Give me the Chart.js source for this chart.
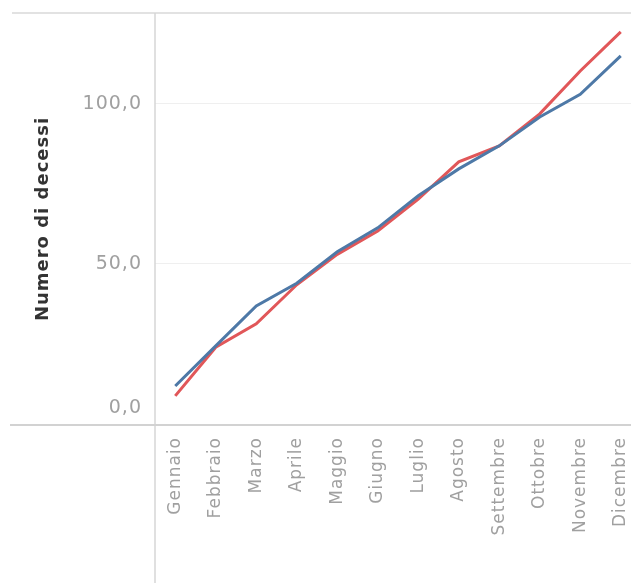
<!DOCTYPE html>
<html>
<head>
<meta charset="utf-8">
<script src="https://cdn.jsdelivr.net/npm/chart.js@4"></script>
<style>
  html, body { margin: 0; padding: 0; background: #fff; overflow: hidden; }
  #wrap { width: 641px; height: 583px; }
</style>
</head>
<body>
<div id="wrap"><canvas id="deathsChart"></canvas></div>
<script>
const months = ['Gennaio', 'Febbraio', 'Marzo', 'Aprile', 'Maggio', 'Giugno',
                'Luglio', 'Agosto', 'Settembre', 'Ottobre', 'Novembre', 'Dicembre'];
const deathsBlue = [11.9, 24.4, 36.9, 44.0, 53.8, 61.3, 71.3, 79.7, 86.9, 95.9, 103.0, 115.0];
const deathsRed = [8.8, 24.0, 31.3, 43.5, 53.0, 60.3, 70.3, 81.9, 86.9, 96.9, 110.3, 122.5];
const yTicks = [0, 50, 100];

// wider letter spacing for every label (set before measuring and before drawing)
const textSpacing = {
    id: 'textSpacing',
    beforeUpdate(chart) { chart.ctx.letterSpacing = '1px'; },
    beforeDraw(chart) { chart.ctx.letterSpacing = '1px'; },
};

// light frame: top rule, vertical axis rule and the zero line
const frameLines = {
    id: 'frameLines',
    beforeDatasetsDraw(chart) {
        const { ctx, chartArea, width, height } = chart;
        ctx.save();
        ctx.strokeStyle = '#e2e2e2';
        ctx.lineWidth = 2;
        ctx.beginPath();
        ctx.moveTo(12, chartArea.top);
        ctx.lineTo(width, chartArea.top);
        ctx.stroke();

        ctx.strokeStyle = '#d6d6d6';
        ctx.lineWidth = 1.5;
        ctx.beginPath();
        ctx.moveTo(chartArea.left, chartArea.top);
        ctx.lineTo(chartArea.left, height);
        ctx.stroke();

        ctx.strokeStyle = '#d2d2d2';
        ctx.lineWidth = 2;
        ctx.beginPath();
        ctx.moveTo(10, chartArea.bottom);
        ctx.lineTo(width, chartArea.bottom);
        ctx.stroke();
        ctx.restore();
    }
};

document.addEventListener('DOMContentLoaded', function() {
    const ctx = document.getElementById('deathsChart').getContext('2d');
    const chart = new Chart(ctx, {
        type: 'line',
        data: {
            labels: months,
            datasets: [{
                label: 'Serie blu',
                data: deathsBlue,
                borderColor: '#4e79a7',
                borderWidth: 3,
                pointRadius: 0,
                tension: 0,
            }, {
                label: 'Serie rossa',
                data: deathsRed,
                borderColor: '#e15759',
                borderWidth: 3,
                pointRadius: 0,
                tension: 0,
            }],
        },
        options: {
            responsive: true,
            maintainAspectRatio: false,
            animation: false,
            layout: {
                padding: { top: 13, left: 0, right: 0, bottom: 0 },
            },
            scales: {
                x: {
                    offset: true,
                    grid: { display: false },
                    border: { display: false },
                    ticks: {
                        autoSkip: false,
                        minRotation: 90,
                        maxRotation: 90,
                        padding: 4,
                        color: '#a0a0a0',
                        font: { family: 'DejaVu Sans', size: 17 },
                    },
                    afterFit: function(scale) {
                        scale.height = 158;
                        scale.paddingLeft = 0;
                        scale.paddingRight = 0;
                    },
                },
                y: {
                    min: -0.3,
                    max: 128.4,
                    afterBuildTicks: function(scale) {
                        scale.ticks = yTicks.map(v => ({ value: v }));
                    },
                    afterFit: function(scale) {
                        scale.width = 155;
                        scale.paddingTop = 0;
                        scale.paddingBottom = 0;
                    },
                    grid: {
                        drawTicks: false,
                        color: function(c) {
                            return c.tick && c.tick.value === 0 ? 'rgba(0,0,0,0)' : '#efefef';
                        },
                    },
                    border: { display: false },
                    ticks: {
                        padding: 13,
                        color: '#a0a0a0',
                        font: { family: 'DejaVu Sans', size: 19, lineHeight: 0.85 },
                        callback: function(value) {
                            const text = value.toFixed(1).replace('.', ',');
                            // the zero label sits above the base line
                            return value === 0 ? [text, '', ''] : text;
                        },
                    },
                    title: {
                        display: true,
                        text: 'Numero di decessi',
                        color: '#333333',
                        font: { family: 'DejaVu Sans', size: 18, weight: 'bold' },
                        padding: { top: 33, bottom: 0 },
                    },
                },
            },
            plugins: {
                legend: { display: false },
                tooltip: { enabled: false },
            },
        },
        plugins: [textSpacing, frameLines],
    });
});
</script>
</body>
</html>
